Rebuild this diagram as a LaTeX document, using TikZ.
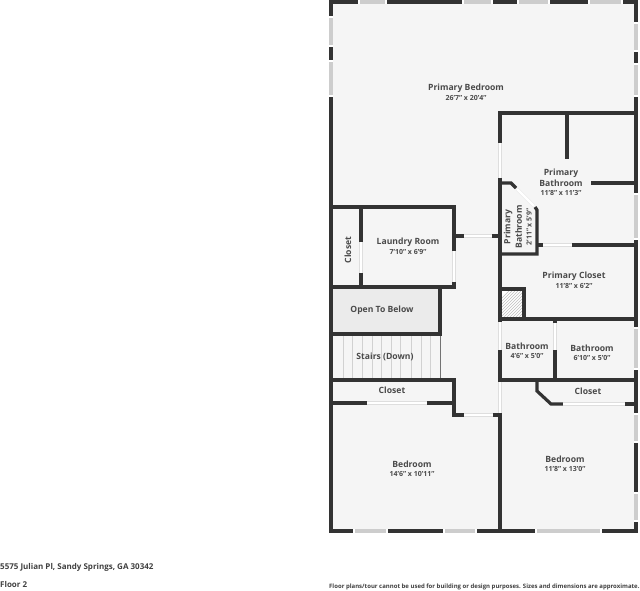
\documentclass[tikz,border=0pt]{standalone}
\usepackage{fontspec}
\setmainfont{Open Sans}
\definecolor{wallc}{HTML}{333333}
\definecolor{floorc}{HTML}{F5F5F5}
\definecolor{winc}{HTML}{CDCDCD}
\definecolor{textc}{HTML}{4A4A4A}
\tikzset{
    wall/.style={line width=3.2pt,draw=wallc,line cap=butt},
    roomname/.style={font=\fontsize{8.6}{10}\selectfont\bfseries,text=textc,inner sep=0pt,align=center},
    roomsize/.style={font=\fontsize{7}{8}\selectfont\bfseries,text=textc,inner sep=0pt},
    door/.style={draw=black!13,double=white,double distance=2.6pt,line width=.4pt},
    footer/.style={font=\fontsize{8}{10}\selectfont\bfseries,text=black!75,inner sep=0pt,anchor=west},
}
\newcommand{\winH}[3]{\fill[white] (#1,#3-2.2) rectangle (#2,#3+2.2);\fill[winc] (#1+2,#3-1.6) rectangle (#2-2,#3+1.6);}
\newcommand{\winV}[3]{\fill[white] (#3-2.2,#1) rectangle (#3+2.2,#2);\fill[winc] (#3-1.6,#1+2) rectangle (#3+1.6,#2-2);}
\begin{document}
\begin{tikzpicture}[x=1pt,y=-1pt]
\useasboundingbox (0,0) rectangle (640,591);
\fill[white] (0,0) rectangle (640,591);
\fill[floorc] (331,2) rectangle (636,531);
% open area and stairs
\fill[black!8] (333,289) rectangle (439,333);
\foreach \x in {343,352,362,372,381,391,400,411,421,430}
    \draw[black!18,line width=.5pt] (\x,336) -- (\x,378);
\draw[black!55,line width=.7pt] (440,335) -- (440,379);
% shaft
\fill[white] (502,291) rectangle (522,318);
\begin{scope}
\clip (502,291) rectangle (522,318);
\foreach \k in {0,3,...,48}
    \draw[black!25,line width=.5pt] (502+\k-20,318) -- (502+\k+7,291);
\end{scope}
% outer walls
\draw[wall] (331,2) rectangle (636,531);
% inner walls
\draw[wall] (636,113) -- (500,113) -- (500,143);
\draw[wall] (500,178) -- (500,322);
\draw[wall] (567,113) -- (567,159);
\draw[wall] (591,183) -- (636,183);
\draw[wall] (500,183) -- (511,183) -- (516,188);
\draw[wall] (535,207) -- (537,210) -- (537,254) -- (500,254);
\draw[wall] (537,245) -- (543,245);
\draw[wall] (572,245) -- (636,245);
\draw[wall] (500,319) -- (636,319);
\draw[wall] (500,289) -- (524,289) -- (524,319);
\draw[wall] (500,380) -- (636,380);
\draw[wall] (555,350) -- (555,380);
\draw[wall] (555,319) -- (555,323);
\draw[wall] (500,350) -- (500,382);
\draw[wall] (537,380) -- (537,391) -- (551,404) -- (563,404);
\draw[wall] (625,404) -- (636,404);
\draw[wall] (500,413) -- (500,531);
\draw[wall] (493,415) -- (501.6,415);
% left block
\draw[wall] (331,207) -- (454,207) -- (454,251);
\draw[wall] (361,207) -- (361,242);
\draw[wall] (361,273) -- (361,287);
\draw[wall] (331,287) -- (455.6,287);
\draw[wall] (454,282) -- (454,288);
\draw[wall] (454,236) -- (464,236);
\draw[wall] (492,236) -- (500,236);
\draw[wall] (440,287) -- (440,334) -- (331,334);
\draw[wall] (331,380) -- (454,380) -- (454,415) -- (464,415);
\draw[wall] (331,403) -- (367,403);
\draw[wall] (427,403) -- (454,403);
% doors
\draw[door] (500,143) -- (500,178);
\draw[door] (464,236) -- (492,236);
\draw[door] (367,403) -- (427,403);
\draw[door] (563,404) -- (625,404);
\draw[door] (543,245) -- (572,245);
\draw[door] (517,189) -- (534,206);
\draw[door] (464,415) -- (493,415);
\draw[door] (361,242) -- (361,273);
\draw[door] (454,251) -- (454,282);
\draw[door] (500,322) -- (500,350);
\draw[door] (500,382) -- (500,413);
\draw[door] (555,323) -- (555,350);
% windows
\winH{358}{387}{2}
\winH{462}{493}{2}
\winH{517}{550}{2}
\winH{588}{623}{2}
\winH{353}{388}{531}
\winH{443}{477}{531}
\winH{535}{602}{531}
\winV{16}{47}{331}
\winV{60}{97}{331}
\winV{22}{52}{636}
\winV{63}{97}{636}
\winV{193}{240}{636}
\winV{327}{370}{636}
\winV{413}{443}{636}
\winV{492}{522}{636}
% labels
\node[roomname] (bed1) at (466,88) {Primary Bedroom};
\node[roomsize] (bed1s) at (466,98) {26'7" x 20'4"};
\node[roomname] (bath1) at (561,178) {Primary\\[1.5pt]Bathroom};
\node[roomsize] (bath1s) at (561,193) {11'8" x 11'3"};
\node[roomname,rotate=90] (bath2) at (513,227) {Primary\\[1.5pt]Bathroom};
\node[roomsize,rotate=90] (bath2s) at (529,227) {2'11" x 5'9"};
\node[roomname,rotate=90] (clos1) at (348,250) {Closet};
\node[roomname] (laun) at (408,242) {Laundry Room};
\node[roomsize] (launs) at (408,252) {7'10" x 6'9"};
\node[roomname] (clos2) at (574,276) {Primary Closet};
\node[roomsize] (clos2s) at (574,286) {11'8" x 6'2"};
\node[roomname] (open) at (382,310) {Open To Below};
\node[roomname] (stairs) at (385,357) {Stairs (Down)};
\node[roomname] (bath3) at (527,346) {Bathroom};
\node[roomsize] (bath3s) at (527,356) {4'6" x 5'0"};
\node[roomname] (bath4) at (592,348) {Bathroom};
\node[roomsize] (bath4s) at (592,358) {6'10" x 5'0"};
\node[roomname] (clos3) at (392,390) {Closet};
\node[roomname] (clos4) at (588,391) {Closet};
\node[roomname] (bed2) at (412,464) {Bedroom};
\node[roomsize] (bed2s) at (412,474) {14'6" x 10'11"};
\node[roomname] (bed3) at (565,459) {Bedroom};
\node[roomsize] (bed3s) at (565,469) {11'8" x 13'0"};
% footer
\node[footer] (addr) at (0,567) {5575 Julian Pl, Sandy Springs, GA 30342};
\node[footer] (floor) at (0,584) {Floor 2};
\node[footer,font=\fontsize{6}{7}\selectfont\bfseries] (note) at (329,587) {Floor plans/tour cannot be used for building or design purposes. Sizes and dimensions are approximate.};
\end{tikzpicture}
\end{document}
